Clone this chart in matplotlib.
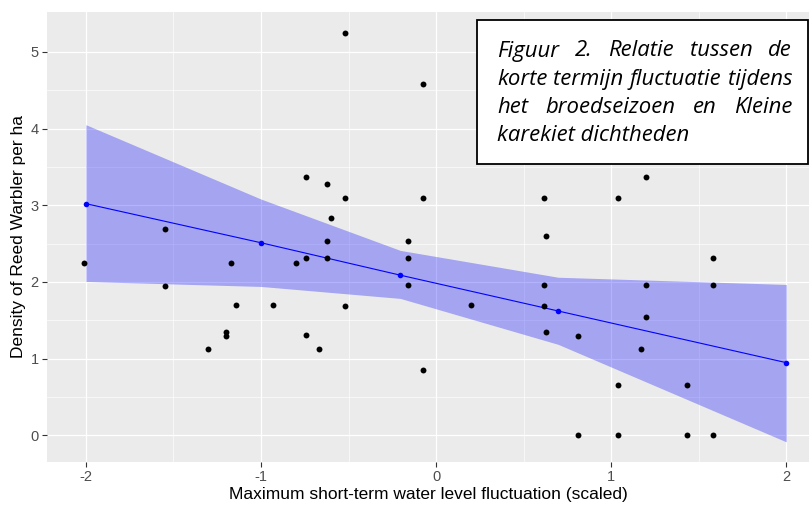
import matplotlib
matplotlib.use("Agg")
import matplotlib.pyplot as plt
from matplotlib.patches import Rectangle
import numpy as np

# ---- data ----
pts_x = [-2.01, -1.55, -1.55, -1.17, -1.14, -1.30, -1.20, -1.20, -0.93, -0.80,
         -0.74, -0.74, -0.74, -0.67, -0.62, -0.62, -0.62, -0.60, -0.52, -0.52,
         -0.52, -0.16, -0.16, -0.16, -0.075, -0.075, -0.075, 0.20, 0.615, 0.63,
         0.615, 0.615, 0.63, 0.81, 0.81, 1.04, 1.04, 1.04, 1.20, 1.20,
         1.20, 1.17, 1.435, 1.435, 1.58, 1.58, 1.58]
pts_y = [2.25, 2.69, 1.95, 2.25, 1.70, 1.13, 1.34, 1.29, 1.70, 2.25,
         3.37, 2.31, 1.31, 1.13, 3.28, 2.53, 2.31, 2.83, 3.09, 1.69,
         5.25, 2.53, 2.31, 1.96, 4.58, 3.09, 0.85, 1.70, 3.09, 2.60,
         1.96, 1.69, 1.34, 1.30, 0.0, 3.09, 0.65, 0.0, 3.37, 1.96,
         1.545, 1.13, 0.65, 0.0, 2.31, 1.96, 0.0]

fit_x = [-2.0, -1.0, -0.204, 0.697, 2.0]
fit_y = [3.02, 2.51, 2.087, 1.62, 0.946]
ci_upper = [4.05, 3.08, 2.41, 2.06, 1.966]
ci_lower = [2.005, 1.94, 1.784, 1.185, -0.087]

x_ticks = [-2, -1, 0, 1, 2]
y_ticks = [0, 1, 2, 3, 4, 5]
x_label = "Maximum short-term water level fluctuation (scaled)"
y_label = "Density of Reed Warbler per ha"
caption_lines = ["Figuur 2. Relatie tussen de",
                 "korte termijn fluctuatie tijdens",
                 "het broedseizoen en Kleine",
                 "karekiet dichtheden"]

W, H = 810, 507
fig = plt.figure(figsize=(W / 100, H / 100), dpi=100)
ax = fig.add_axes([47 / W, 1 - 462 / H, (809 - 47) / W, (462 - 12) / H])
ax.set_facecolor("#EBEBEB")
for s in ax.spines.values():
    s.set_visible(False)

ax.set_xlim(-2.222, 2.13)
ax.set_ylim(-0.35, 5.52)
ax.set_xticks(x_ticks)
ax.set_yticks(y_ticks)
ax.set_xticks([-1.5, -0.5, 0.5, 1.5], minor=True)
ax.set_yticks([0.5, 1.5, 2.5, 3.5, 4.5], minor=True)
ax.grid(which="major", color="white", lw=0.9)
ax.grid(which="minor", color="white", lw=0.45)
ax.set_axisbelow(True)
ax.tick_params(which="major", length=3.5, width=0.8, color="#333333",
               labelcolor="#4D4D4D", labelsize=10.5, pad=2.5)
ax.tick_params(which="minor", length=0)
ax.set_xticklabels([str(t) for t in x_ticks], family="Liberation Sans")
ax.set_yticklabels([str(t) for t in y_ticks], family="Liberation Sans")

ax.fill_between(fit_x, ci_lower, ci_upper, color="blue", alpha=0.3, lw=0, zorder=2)
ax.plot(fit_x, fit_y, color="blue", lw=0.8, zorder=3)
ax.scatter(fit_x, fit_y, color="blue", s=16, zorder=4, linewidths=0)
ax.scatter(pts_x, pts_y, color="black", s=18, zorder=5, linewidths=0)

ax.set_xlabel(x_label, family="Liberation Sans", fontsize=12.5, color="black", labelpad=2)
ax.set_ylabel(y_label, family="Liberation Sans", fontsize=12.5, color="black", labelpad=3)

# ---- caption box ----
box = Rectangle((476.5 / W, 1 - 164 / H), (808 - 476.5) / W, (164 - 20) / H,
                transform=fig.transFigure, facecolor="white", edgecolor="black",
                lw=1.3, zorder=10)
fig.add_artist(box)

renderer = fig.canvas.get_renderer()
fam = "Open Sans"
left_px, right_px = 497, 792
target = right_px - left_px

def width_of(s, fs):
    t = fig.text(0, 0, s, fontsize=fs, family=fam, style="italic")
    w = t.get_window_extent(renderer).width
    t.remove()
    return w

fs0 = 10
w0 = width_of(caption_lines[1], fs0)
fs = fs0 * target / w0
baselines = [56.5, 84.8, 113.1, 141.4]
for i, line in enumerate(caption_lines):
    yb = 1 - baselines[i] / H
    words = line.split(" ")
    if i < len(caption_lines) - 1:
        widths = [width_of(w, fs) for w in words]
        gap = (target - sum(widths)) / (len(words) - 1)
        xp = left_px
        for w, ww in zip(words, widths):
            fig.text(xp / W, yb, w, fontsize=fs, family=fam, style="italic",
                     va="baseline", ha="left", zorder=11)
            xp += ww + gap
    else:
        fig.text(left_px / W, yb, line, fontsize=fs, family=fam, style="italic",
                 va="baseline", ha="left", zorder=11)

fig.savefig("out.png", dpi=100)
